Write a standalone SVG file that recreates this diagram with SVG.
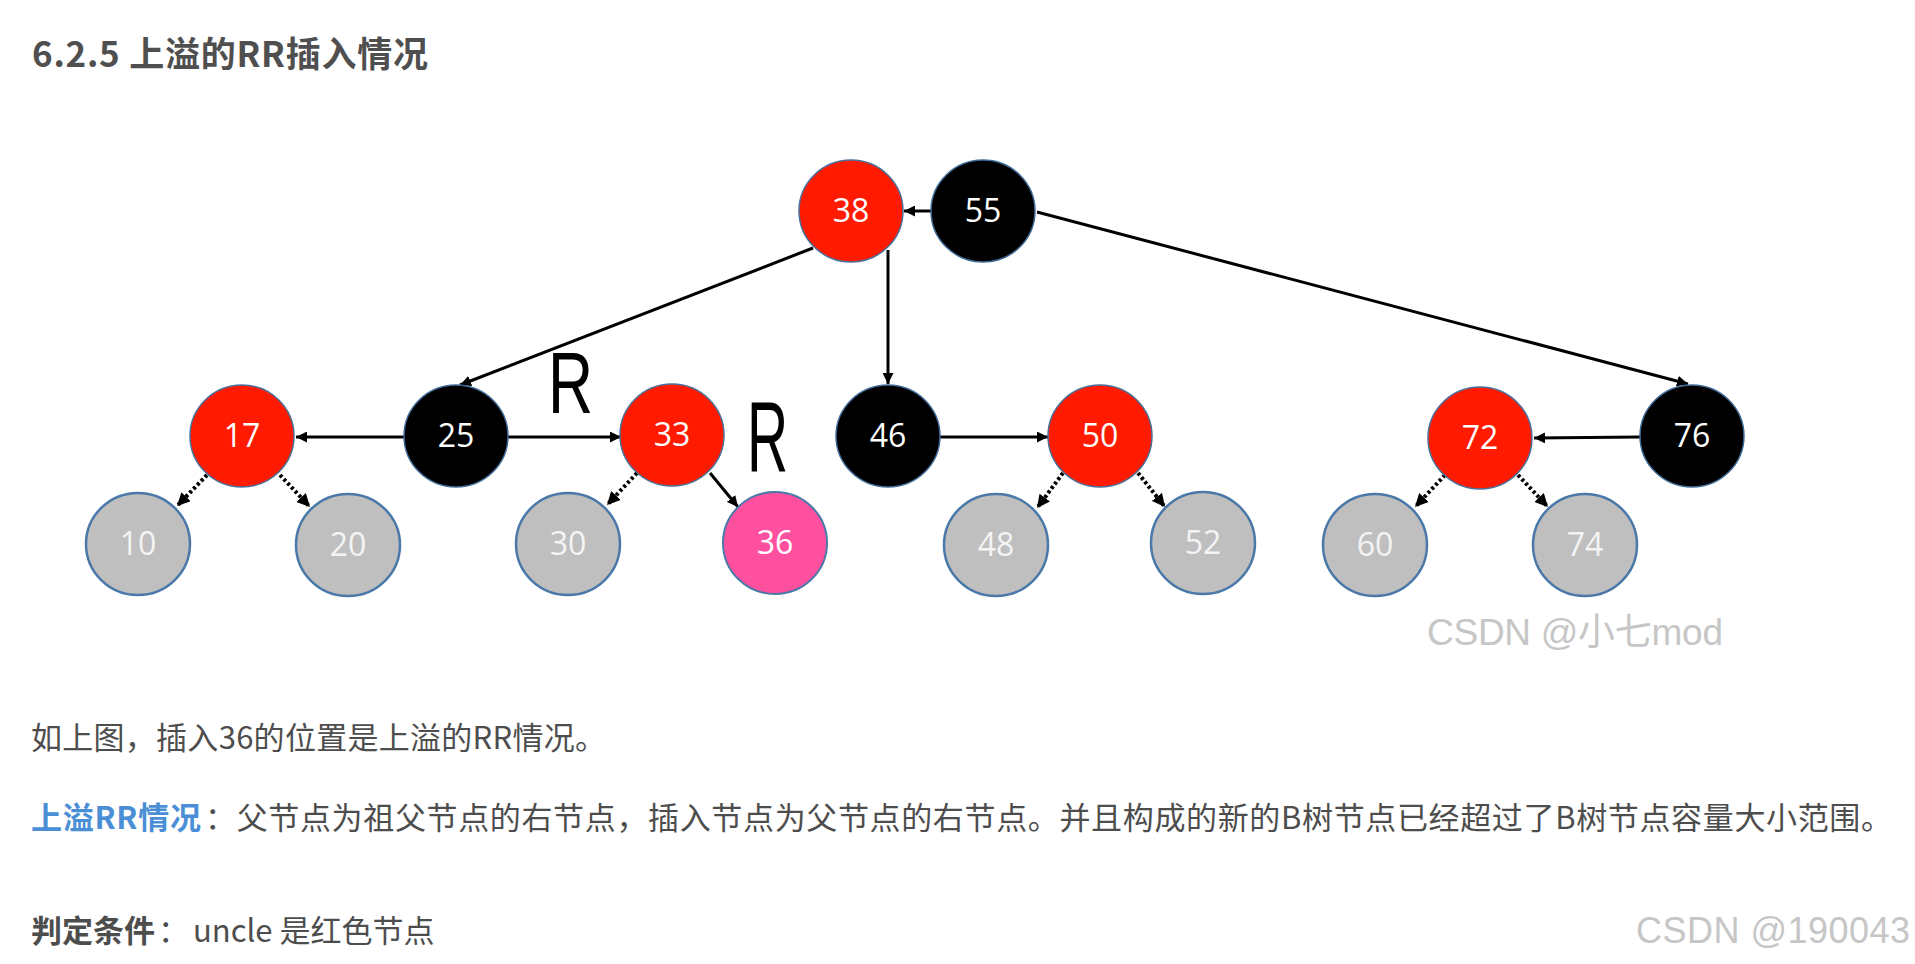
<svg xmlns="http://www.w3.org/2000/svg" width="1915" height="964" viewBox="0 0 1915 964">
<style>
.red{fill:#ff1a00;stroke:#4a6f9a;stroke-width:1.5}
.blk{fill:#000;stroke:#3d6a96;stroke-width:1.5}
.gry{fill:#bfbfbf;stroke:#4a78a8;stroke-width:2.5}
.pnk{fill:#ff4f9f;stroke:#4a78a8;stroke-width:2}
.lbl{font-family:"Open Sans","Liberation Sans",sans-serif;font-size:32px;fill:#fff;text-anchor:middle}
.lg{fill:#f4f4f4}
.ln{stroke:#000;stroke-width:3;fill:none}
.dt{stroke:#000;stroke-width:4;stroke-dasharray:3 2.5;fill:none}
.body{font-family:"Noto Sans CJK SC",sans-serif;font-size:31px;fill:#4d4d4d}
.wm{font-family:"Liberation Sans","Noto Sans CJK SC",sans-serif;fill:#c6c6c6}
.hr{font-family:"Liberation Sans",sans-serif;fill:#000}
</style>
<defs>
<marker id="ah" viewBox="0 0 10 10" refX="10" refY="5" markerWidth="11" markerHeight="11" markerUnits="userSpaceOnUse" orient="auto"><path d="M0,0 L10,5 L0,10 z" fill="#000"/></marker>
<marker id="ahd" viewBox="0 0 10 10" refX="10" refY="5" markerWidth="13" markerHeight="13" markerUnits="userSpaceOnUse" orient="auto"><path d="M0,0 L10,5 L0,10 z" fill="#000"/></marker>
</defs>
<rect width="1915" height="964" fill="#fff"/>
<text x="32" y="67" font-family="Noto Sans CJK SC,sans-serif" font-weight="bold" font-size="35" fill="#4f4f4f" textLength="396">6.2.5 上溢的RR插入情况</text>
<g id="connectors">
<line class="ln" x1="931" y1="211" x2="904" y2="211" marker-end="url(#ah)"/>
<line class="ln" x1="813" y1="248" x2="460" y2="385" marker-end="url(#ah)"/>
<line class="ln" x1="888" y1="250" x2="888" y2="384" stroke-width="2.5" marker-end="url(#ah)"/>
<line class="ln" x1="1037" y1="212" x2="1688" y2="384" marker-end="url(#ah)"/>
<line class="ln" x1="404" y1="437" x2="296" y2="437" marker-end="url(#ah)"/>
<line class="ln" x1="508" y1="437" x2="621" y2="437" marker-end="url(#ah)"/>
<line class="ln" x1="940" y1="437" x2="1048" y2="437" marker-end="url(#ah)"/>
<line class="ln" x1="1640" y1="437" x2="1534" y2="438" marker-end="url(#ah)"/>
<line class="ln" x1="710" y1="473" x2="738" y2="507" marker-end="url(#ah)"/>
<line class="dt" x1="207" y1="475" x2="177" y2="506" marker-end="url(#ahd)"/>
<line class="dt" x1="280" y1="475" x2="310" y2="507" marker-end="url(#ahd)"/>
<line class="dt" x1="637" y1="473" x2="607" y2="505" marker-end="url(#ahd)"/>
<line class="dt" x1="1063" y1="473" x2="1037" y2="508" marker-end="url(#ahd)"/>
<line class="dt" x1="1138" y1="473" x2="1165" y2="507" marker-end="url(#ahd)"/>
<line class="dt" x1="1445" y1="475" x2="1415" y2="507" marker-end="url(#ahd)"/>
<line class="dt" x1="1518" y1="475" x2="1548" y2="507" marker-end="url(#ahd)"/>
</g>
<g id="n38"><ellipse class="red" cx="851" cy="211" rx="52" ry="51"/><text class="lbl" x="851" y="222">38</text></g>
<g id="n55"><ellipse class="blk" cx="983" cy="211" rx="52" ry="51"/><text class="lbl" x="983" y="222">55</text></g>
<g id="n17"><ellipse class="red" cx="242" cy="436" rx="52" ry="51"/><text class="lbl" x="242" y="447">17</text></g>
<g id="n25"><ellipse class="blk" cx="456" cy="436" rx="52" ry="51"/><text class="lbl" x="456" y="447">25</text></g>
<g id="n33"><ellipse class="red" cx="672" cy="435" rx="52" ry="51"/><text class="lbl" x="672" y="446">33</text></g>
<g id="n46"><ellipse class="blk" cx="888" cy="436" rx="52" ry="51"/><text class="lbl" x="888" y="447">46</text></g>
<g id="n50"><ellipse class="red" cx="1100" cy="436" rx="52" ry="51"/><text class="lbl" x="1100" y="447">50</text></g>
<g id="n72"><ellipse class="red" cx="1480" cy="438" rx="52" ry="51"/><text class="lbl" x="1480" y="449">72</text></g>
<g id="n76"><ellipse class="blk" cx="1692" cy="436" rx="52" ry="51"/><text class="lbl" x="1692" y="447">76</text></g>
<g id="n10"><ellipse class="gry" cx="138" cy="544" rx="52" ry="51"/><text class="lbl lg" x="138" y="555">10</text></g>
<g id="n20"><ellipse class="gry" cx="348" cy="545" rx="52" ry="51"/><text class="lbl lg" x="348" y="556">20</text></g>
<g id="n30"><ellipse class="gry" cx="568" cy="544" rx="52" ry="51"/><text class="lbl lg" x="568" y="555">30</text></g>
<g id="n36"><ellipse class="pnk" cx="775" cy="543" rx="52" ry="51"/><text class="lbl" x="775" y="554">36</text></g>
<g id="n48"><ellipse class="gry" cx="996" cy="545" rx="52" ry="51"/><text class="lbl lg" x="996" y="556">48</text></g>
<g id="n52"><ellipse class="gry" cx="1203" cy="543" rx="52" ry="51"/><text class="lbl lg" x="1203" y="554">52</text></g>
<g id="n60"><ellipse class="gry" cx="1375" cy="545" rx="52" ry="51"/><text class="lbl lg" x="1375" y="556">60</text></g>
<g id="n74"><ellipse class="gry" cx="1585" cy="545" rx="52" ry="51"/><text class="lbl lg" x="1585" y="556">74</text></g>
<text class="hr" font-size="88" transform="translate(548,413) scale(0.71,1)">R</text>
<text class="hr" font-size="100" transform="translate(747,472) scale(0.57,1)">R</text>
<text class="wm" x="1427" y="645" font-size="37" textLength="296">CSDN @小七mod</text>
<text class="body" x="31" y="749" textLength="575">如上图，插入36的位置是上溢的RR情况。</text>
<text class="body" x="31" y="829" font-weight="bold" style="fill:#4a8fd6" textLength="170">上溢RR情况</text>
<text class="body" x="205" y="829" textLength="1687">：父节点为祖父节点的右节点，插入节点为父节点的右节点。并且构成的新的B树节点已经超过了B树节点容量大小范围。</text>
<text class="body" x="31" y="942" font-weight="bold">判定条件</text>
<text class="body" x="158" y="942">：</text>
<text class="body" x="193" y="942">uncle 是红色节点</text>
<text class="wm" x="1636" y="943" font-size="36" textLength="274">CSDN @190043</text>
</svg>
